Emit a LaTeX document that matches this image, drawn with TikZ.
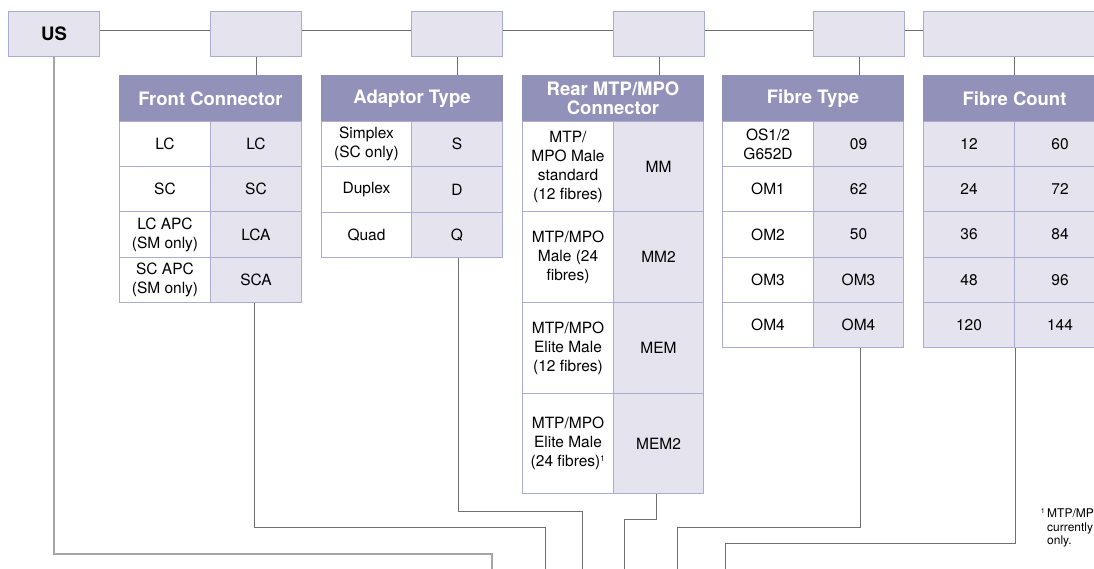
\documentclass[tikz,border=0pt]{standalone}
\usepackage{fontspec}
\setmainfont{TeX Gyre Heros}
\definecolor{hdr}{RGB}{145,145,186}
\definecolor{lav}{RGB}{228,227,238}
\definecolor{bord}{RGB}{172,172,208}
\definecolor{conn}{RGB}{112,112,112}
\definecolor{connlight}{RGB}{165,165,165}
\newcommand{\tcell}[7]{\node[#2, minimum width=#5pt, minimum height=#6pt] (#1) at (#3,#4) {#7};}
\begin{document}
\begin{tikzpicture}[x=1pt,y=-1pt,
 cellbase/.style={draw=bord, line width=1pt, inner sep=0pt, anchor=north west, align=center, font=\fontsize{15.5}{19}\selectfont},
 lcell/.style={cellbase, fill=white},
 rcell/.style={cellbase, fill=lav},
 hdrcell/.style={cellbase, fill=hdr, draw=hdr, text=white, font=\fontsize{18.5}{19}\selectfont\bfseries},
 topbox/.style={cellbase, fill=lav, font=\fontsize{18.5}{19}\selectfont\bfseries, minimum width=91pt, minimum height=45pt},
 link/.style={draw=conn, line width=1pt},
 linklight/.style={draw=connlight, line width=1.5pt},
 note/.style={anchor=north west, inner sep=0pt, align=left, font=\fontsize{12}{13.5}\selectfont}]
\useasboundingbox (0,0) rectangle (1094,568);

% top boxes
\node[topbox] (us) at (8,11) {US};
\node[topbox] (b2) at (210,11) {};
\node[topbox] (b3) at (411,11) {};
\node[topbox] (b4) at (613,11) {};
\node[topbox] (b5) at (813,11) {};
\node[topbox, minimum width=182pt] (b6) at (923,11) {};

\draw[link] ([yshift=3.5pt]us.east) -- ([yshift=3.5pt]b2.west);
\draw[link] ([yshift=3.5pt]b2.east) -- ([yshift=3.5pt]b3.west);
\draw[link] ([yshift=3.5pt]b3.east) -- ([yshift=3.5pt]b4.west);
\draw[link] ([yshift=3.5pt]b4.east) -- ([yshift=3.5pt]b5.west);
\draw[link] ([yshift=3.5pt]b5.east) -- ([yshift=3.5pt]b6.west);

% Front Connector
\tcell{fch}{hdrcell}{119}{75}{182}{46}{Front Connector}
\tcell{fc1l}{lcell}{119}{121}{91}{45}{LC}
\tcell{fc1r}{rcell}{210}{121}{91}{45}{LC}
\tcell{fc2l}{lcell}{119}{166}{91}{45}{SC}
\tcell{fc2r}{rcell}{210}{166}{91}{45}{SC}
\tcell{fc3l}{lcell}{119}{211}{91}{46}{LC APC\\(SM only)}
\tcell{fc3r}{rcell}{210}{211}{91}{46}{LCA}
\tcell{fc4l}{lcell}{119}{257}{91}{45}{SC APC\\(SM only)}
\tcell{fc4r}{rcell}{210}{257}{91}{45}{SCA}

% Adaptor Type
\tcell{ath}{hdrcell}{321}{75}{181}{46}{Adaptor Type}
\tcell{at1l}{lcell}{321}{121}{90}{45}{Simplex\\(SC only)}
\tcell{at1r}{rcell}{411}{121}{91}{45}{S}
\tcell{at2l}{lcell}{321}{166}{90}{46}{Duplex}
\tcell{at2r}{rcell}{411}{166}{91}{46}{D}
\tcell{at3l}{lcell}{321}{212}{90}{45}{Quad}
\tcell{at3r}{rcell}{411}{212}{91}{45}{Q}

% Rear MTP/MPO Connector
\tcell{rmh}{hdrcell}{522}{75}{181}{46}{Rear MTP/MPO\\Connector}
\tcell{rm1l}{lcell}{522}{121}{91}{90}{MTP/\\MPO Male\\standard\\(12 fibres)}
\tcell{rm1r}{rcell}{613}{121}{90}{90}{MM}
\tcell{rm2l}{lcell}{522}{211}{91}{91}{MTP/MPO\\Male (24\\fibres)}
\tcell{rm2r}{rcell}{613}{211}{90}{91}{MM2}
\tcell{rm3l}{lcell}{522}{302}{91}{91}{MTP/MPO\\Elite Male\\(12 fibres)}
\tcell{rm3r}{rcell}{613}{302}{90}{91}{MEM}
\tcell{rm4l}{lcell}{522}{393}{91}{100}{MTP/MPO\\Elite Male\\(24 fibres)\textsuperscript{\fontsize{8}{8}\selectfont 1}}
\tcell{rm4r}{rcell}{613}{393}{90}{100}{MEM2}

% Fibre Type
\tcell{fth}{hdrcell}{722}{75}{181}{46}{Fibre Type}
\tcell{ft1l}{lcell}{722}{121}{91}{45}{OS1/2\\G652D}
\tcell{ft1r}{rcell}{813}{121}{90}{45}{09}
\tcell{ft2l}{lcell}{722}{166}{91}{45}{OM1}
\tcell{ft2r}{rcell}{813}{166}{90}{45}{62}
\tcell{ft3l}{lcell}{722}{211}{91}{46}{OM2}
\tcell{ft3r}{rcell}{813}{211}{90}{46}{50}
\tcell{ft4l}{lcell}{722}{257}{91}{45}{OM3}
\tcell{ft4r}{rcell}{813}{257}{90}{45}{OM3}
\tcell{ft5l}{lcell}{722}{302}{91}{45}{OM4}
\tcell{ft5r}{rcell}{813}{302}{90}{45}{OM4}

% Fibre Count
\tcell{fnh}{hdrcell}{923}{75}{182}{46}{Fibre Count}
\tcell{fn1l}{rcell}{923}{121}{91}{45}{12}
\tcell{fn1r}{rcell}{1014}{121}{91}{45}{60}
\tcell{fn2l}{rcell}{923}{166}{91}{45}{24}
\tcell{fn2r}{rcell}{1014}{166}{91}{45}{72}
\tcell{fn3l}{rcell}{923}{211}{91}{46}{36}
\tcell{fn3r}{rcell}{1014}{211}{91}{46}{84}
\tcell{fn4l}{rcell}{923}{257}{91}{45}{48}
\tcell{fn4r}{rcell}{1014}{257}{91}{45}{96}
\tcell{fn5l}{rcell}{923}{302}{91}{45}{120}
\tcell{fn5r}{rcell}{1014}{302}{91}{45}{144}

% top box to table header
\draw[link] (b2.south) -- (b2.south |- fch.north);
\draw[link] (b3.south) -- (b3.south |- ath.north);
\draw[link] (b4.south) -- (b4.south |- rmh.north);
\draw[link] (b5.south) -- (b5.south |- fth.north);
\draw[link] (b6.south) -- (b6.south |- fnh.north);

% bottom connectors
\coordinate (e1) at (492,570);
\coordinate (e2) at (545,570);
\coordinate (e3) at (582,570);
\coordinate (e4) at (624,570);
\coordinate (e5) at (677,570);
\coordinate (e6) at (725,570);
\draw[linklight] (us.south) |- ([yshift=16pt]e1) -- (e1);
\draw[link] ([xshift=-2pt]fc4r.south) |- ([yshift=43pt]e2) -- (e2);
\draw[link] ([xshift=1.5pt]at3r.south) |- ([yshift=59pt]e3) -- (e3);
\draw[link] ([xshift=-2pt]rm4r.south) |- ([yshift=51pt]e4) -- (e4);
\draw[link] ([xshift=2pt]ft5r.south) |- ([yshift=43pt]e5) -- (e5);
\draw[link] (fn5l.south east) |- ([yshift=27pt]e6) -- (e6);

% footnote
\node[note] (fnote) at (1047,508) {\llap{\textsuperscript{\fontsize{7}{7}\selectfont 1}\,}MTP/MPO\\currently\\only.};
\end{tikzpicture}
\end{document}
